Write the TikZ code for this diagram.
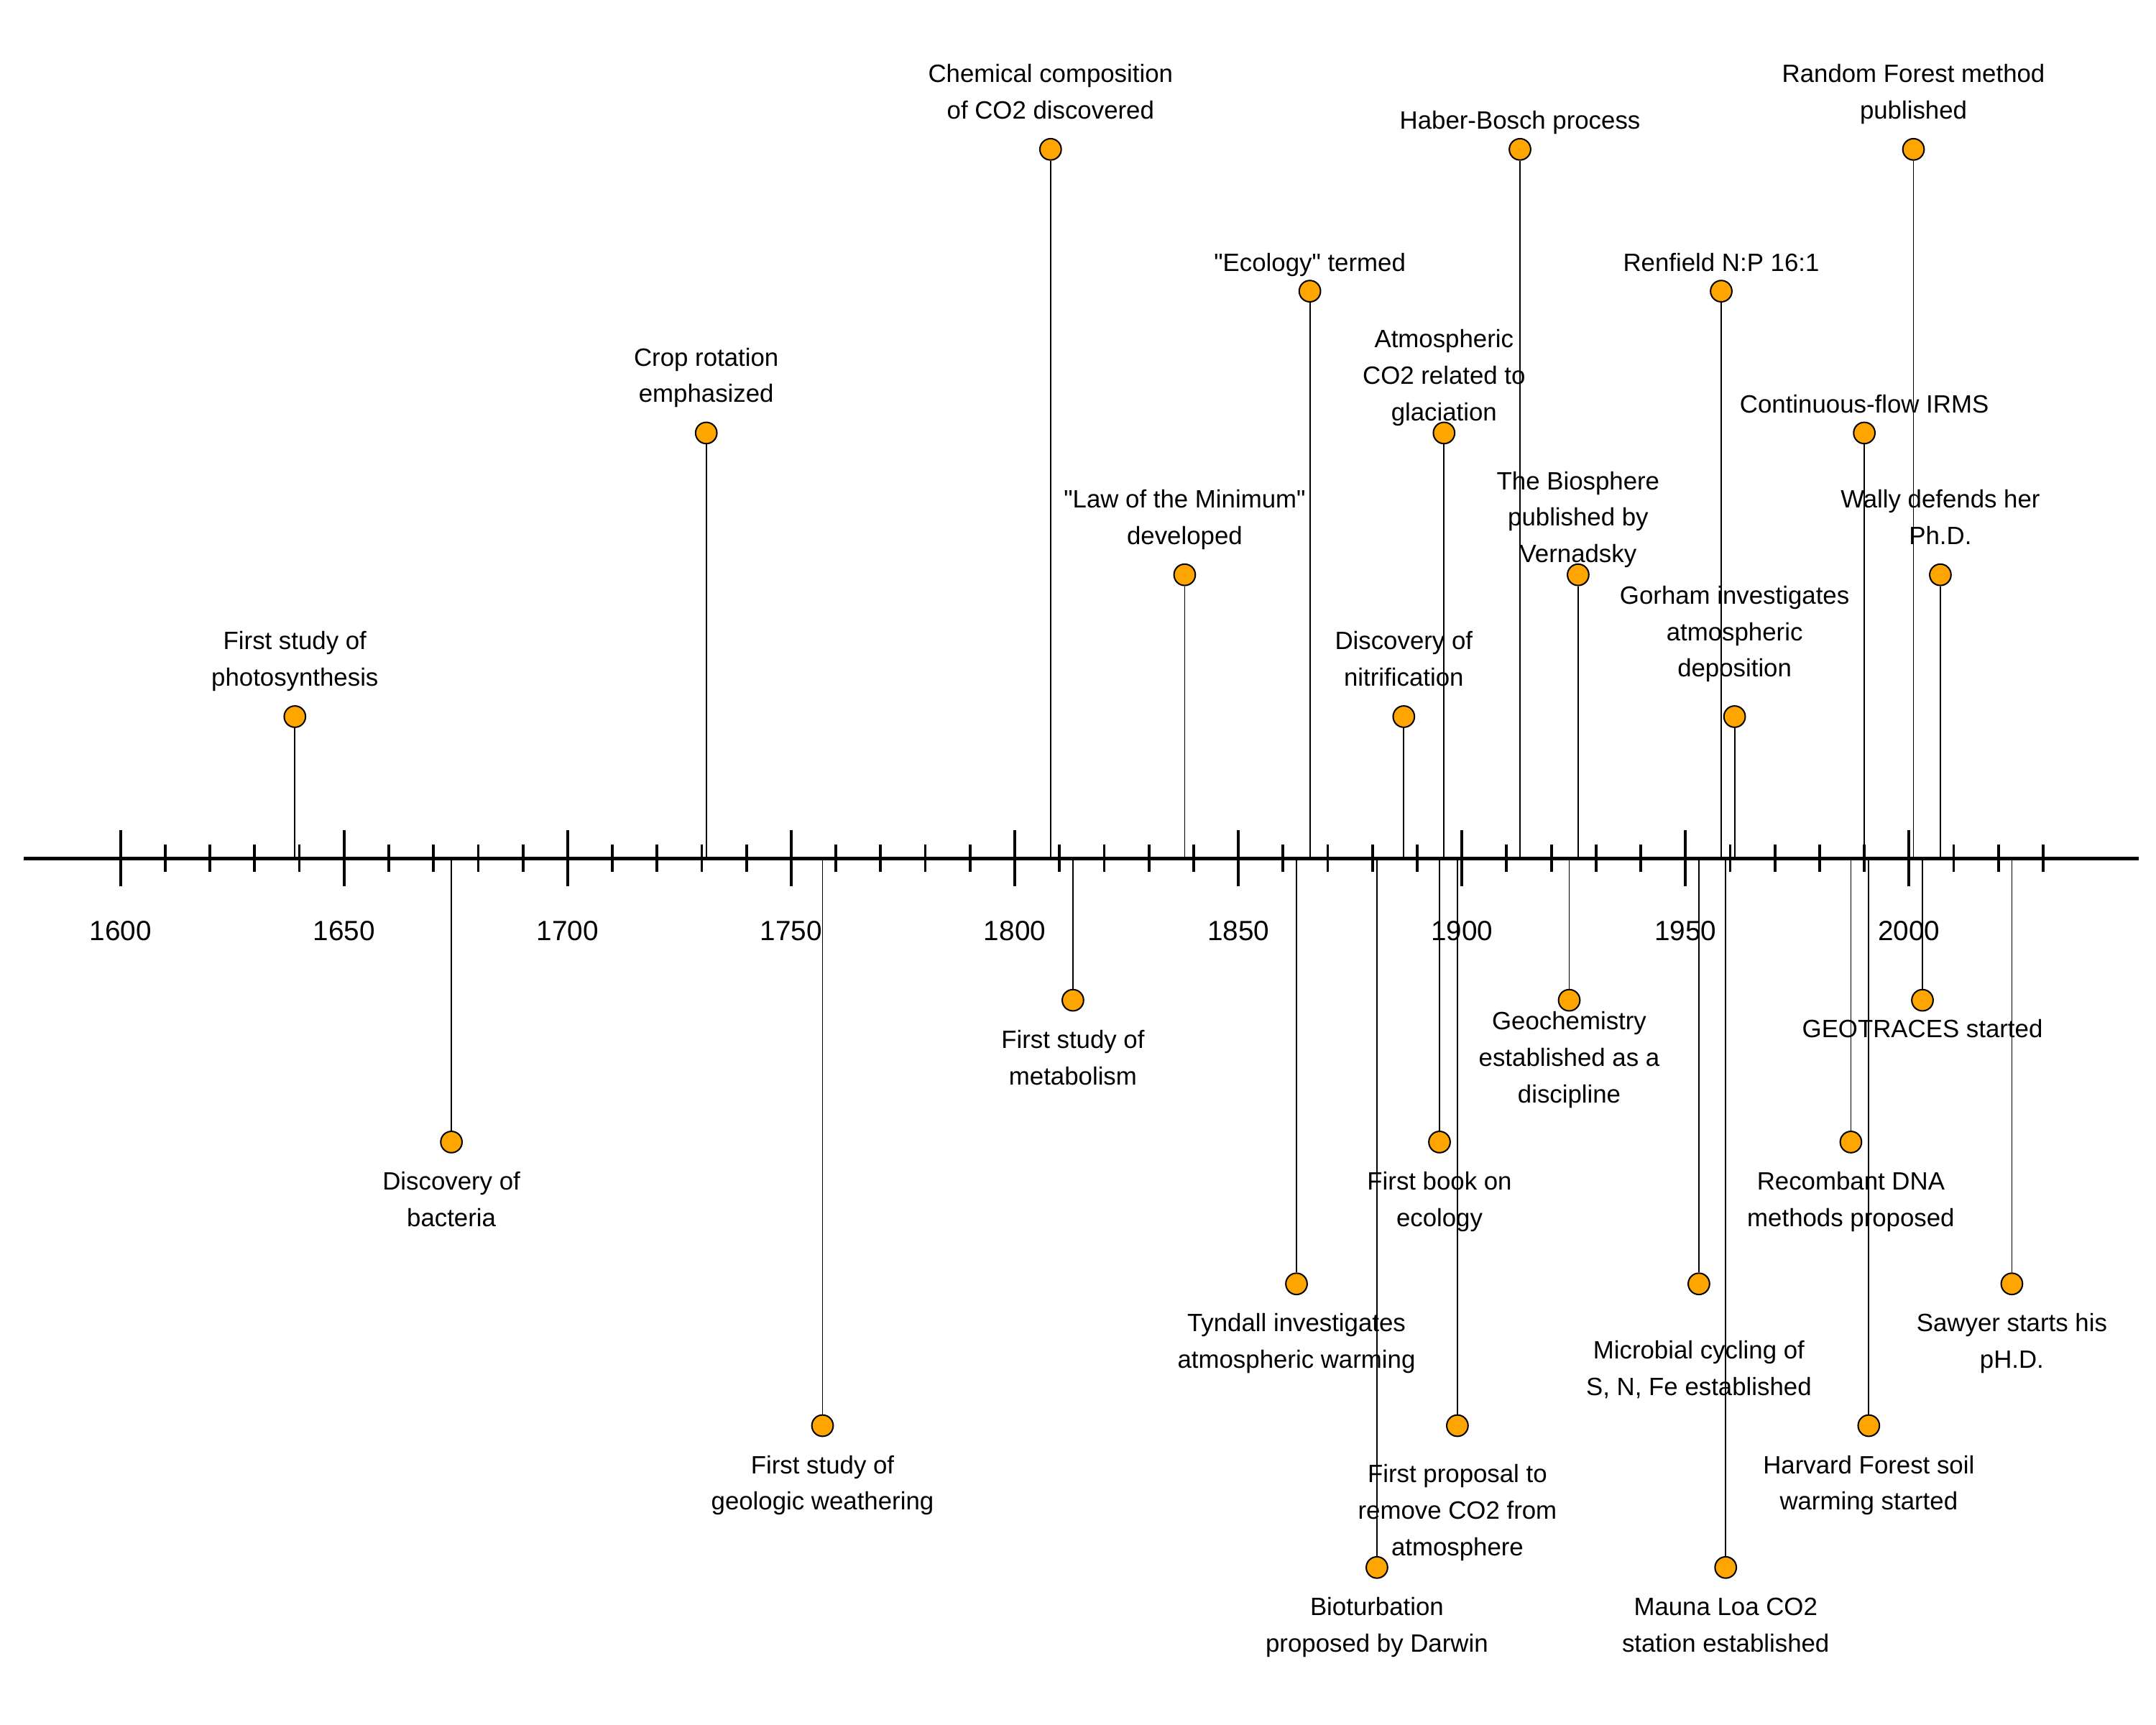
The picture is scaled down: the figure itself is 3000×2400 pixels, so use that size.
\documentclass[tikz,border=0pt]{standalone}
\usepackage{fontspec}
\setmainfont{Liberation Sans}[Ligatures=TeXOff]
\definecolor{dotfill}{HTML}{FFA500}
\newcommand{\evtext}[1]{\begin{tabular}[t]{@{}c@{}}#1\end{tabular}}
\tikzset{
  axisline/.style={line width=1.33pt, black},
  tickline/.style={line width=1.08pt, black},
  stem/.style={line width=0.5pt, black},
  dot/.style={circle, draw=black, fill=dotfill, line width=0.57pt, minimum size=0.297cm, inner sep=0pt},
  lbl/.style={anchor=base, inner sep=0pt, font=\fontsize{9.9}{14.43}\selectfont},
  yearlbl/.style={anchor=base, inner sep=0pt, font=\fontsize{11}{13}\selectfont}
}
\begin{document}
\begin{tikzpicture}[x=0.01cm, y=-0.01cm]
\fill[white] (0,0) rectangle (3000,2400);
\useasboundingbox (0,0) rectangle (3000,2400);
% axis
\draw[axisline] (33,1194.3) -- (2976,1194.3);
\foreach \yr in {1600,1610,...,2030} {
  \draw[tickline] ({167.7+6.2215*(\yr-1600)},1175.3) -- ({167.7+6.2215*(\yr-1600)},1213.3);
}
\foreach \yr in {1600,1650,...,2000} {
  \draw[tickline] ({167.7+6.2215*(\yr-1600)},1155.3) -- ({167.7+6.2215*(\yr-1600)},1233.3);
  \node[yearlbl] (y\yr) at ({167.7+6.2215*(\yr-1600)},1308) {\yr};
}
% axis anchor coordinates
\coordinate (b1) at (410.3,1194.3);
\coordinate (b2) at (982.7,1194.3);
\coordinate (b3) at (1461.8,1194.3);
\coordinate (b4) at (1648.4,1194.3);
\coordinate (b5) at (1822.6,1194.3);
\coordinate (b6) at (2009.3,1194.3);
\coordinate (b7) at (1953.3,1194.3);
\coordinate (b8) at (2115.0,1194.3);
\coordinate (b9) at (2195.9,1194.3);
\coordinate (b10) at (2395.0,1194.3);
\coordinate (b11) at (2413.6,1194.3);
\coordinate (b12) at (2594.1,1194.3);
\coordinate (b13) at (2662.5,1194.3);
\coordinate (b14) at (2699.9,1194.3);
\coordinate (b15) at (628.1,1194.3);
\coordinate (b16) at (1144.5,1194.3);
\coordinate (b17) at (1492.9,1194.3);
\coordinate (b18) at (1804.0,1194.3);
\coordinate (b19) at (1915.9,1194.3);
\coordinate (b20) at (2003.0,1194.3);
\coordinate (b21) at (2027.9,1194.3);
\coordinate (b22) at (2183.5,1194.3);
\coordinate (b23) at (2363.9,1194.3);
\coordinate (b24) at (2401.2,1194.3);
\coordinate (b25) at (2575.4,1194.3);
\coordinate (b26) at (2600.3,1194.3);
\coordinate (b27) at (2675.0,1194.3);
\coordinate (b28) at (2799.4,1194.3);
% dot positions
\path
  (410.3,997.0)   coordinate (p1)
  (982.7,602.4)   coordinate (p2)
  (1461.8,207.8)  coordinate (p3)
  (1648.4,799.7)  coordinate (p4)
  (1822.6,405.1)  coordinate (p5)
  (2009.3,602.4)  coordinate (p6)
  (1953.3,997.0)  coordinate (p7)
  (2115.0,207.8)  coordinate (p8)
  (2195.9,799.7)  coordinate (p9)
  (2395.0,405.1)  coordinate (p10)
  (2413.6,997.0)  coordinate (p11)
  (2594.1,602.4)  coordinate (p12)
  (2662.5,207.8)  coordinate (p13)
  (2699.9,799.7)  coordinate (p14)
  (628.1,1588.9)  coordinate (p15)
  (1144.5,1983.5) coordinate (p16)
  (1492.9,1391.6) coordinate (p17)
  (1804.0,1786.2) coordinate (p18)
  (1915.9,2180.8) coordinate (p19)
  (2003.0,1588.9) coordinate (p20)
  (2027.9,1983.5) coordinate (p21)
  (2183.5,1391.6) coordinate (p22)
  (2363.9,1786.2) coordinate (p23)
  (2401.2,2180.8) coordinate (p24)
  (2575.4,1588.9) coordinate (p25)
  (2600.3,1983.5) coordinate (p26)
  (2675.0,1391.6) coordinate (p27)
  (2799.4,1786.2) coordinate (p28);
% labels
\node[lbl] (l1) at (410.3,903.65) {\evtext{First study of\\photosynthesis}};
\node[lbl] (l2) at (982.7,509.05) {\evtext{Crop rotation\\emphasized}};
\node[lbl] (l3) at (1461.8,114.45) {\evtext{Chemical composition\\of CO2 discovered}};
\node[lbl] (l4) at (1648.4,706.35) {\evtext{"Law of the Minimum"\\developed}};
\node[lbl] (l5) at (1822.6,377.1) {\evtext{"Ecology" termed}};
\node[lbl] (l6) at (2009.3,483.7) {\evtext{Atmospheric\\CO2 related to\\glaciation}};
\node[lbl] (l7) at (1953.3,903.65) {\evtext{Discovery of\\nitrification}};
\node[lbl] (l8) at (2115.0,179.8) {\evtext{Haber-Bosch process}};
\node[lbl] (l9) at (2195.9,681.0) {\evtext{The Biosphere\\published by\\Vernadsky}};
\node[lbl] (l10) at (2395.0,377.1) {\evtext{Renfield N:P 16:1}};
\node[lbl] (l11) at (2413.6,840.3) {\evtext{Gorham investigates\\atmospheric\\deposition}};
\node[lbl] (l12) at (2594.1,574.4) {\evtext{Continuous-flow IRMS}};
\node[lbl] (l13) at (2662.5,114.45) {\evtext{Random Forest method\\published}};
\node[lbl] (l14) at (2699.9,706.35) {\evtext{Wally defends her\\Ph.D.}};
\node[lbl] (l15) at (628.1,1655.55) {\evtext{Discovery of\\bacteria}};
\node[lbl] (l16) at (1144.5,2050.15) {\evtext{First study of\\geologic weathering}};
\node[lbl] (l17) at (1492.9,1458.25) {\evtext{First study of\\metabolism}};
\node[lbl] (l18) at (1804.0,1852.85) {\evtext{Tyndall investigates\\atmospheric warming}};
\node[lbl] (l19) at (1915.9,2247.45) {\evtext{Bioturbation\\proposed by Darwin}};
\node[lbl] (l20) at (2003.0,1655.55) {\evtext{First book on\\ecology}};
\node[lbl] (l21) at (2027.9,2062.8) {\evtext{First proposal to\\remove CO2 from\\atmosphere}};
\node[lbl] (l22) at (2183.5,1432.9) {\evtext{Geochemistry\\established as a\\discipline}};
\node[lbl] (l23) at (2363.9,1890.85) {\evtext{Microbial cycling of\\S, N, Fe established}};
\node[lbl] (l24) at (2401.2,2247.45) {\evtext{Mauna Loa CO2\\station established}};
\node[lbl] (l25) at (2575.4,1655.55) {\evtext{Recombant DNA\\methods proposed}};
\node[lbl] (l26) at (2600.3,2050.15) {\evtext{Harvard Forest soil\\warming started}};
\node[lbl] (l27) at (2675.0,1443.6) {\evtext{GEOTRACES started}};
\node[lbl] (l28) at (2799.4,1852.85) {\evtext{Sawyer starts his\\pH.D.}};
% dots and stems
\foreach \i in {1,...,28} {
  \node[dot] (d\i) at (p\i) {};
  \draw[stem] (b\i) -- (d\i);
}
\end{tikzpicture}
\end{document}
